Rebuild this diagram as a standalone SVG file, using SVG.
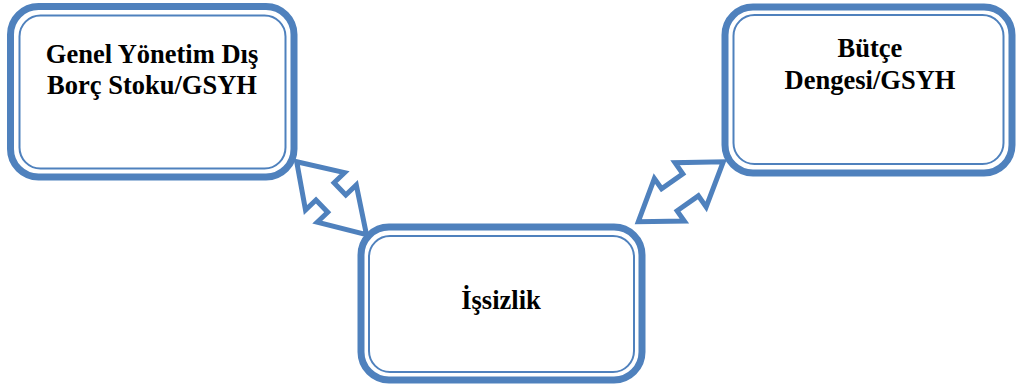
<svg xmlns="http://www.w3.org/2000/svg" width="1016" height="387" viewBox="0 0 1016 387">
  <style>
    .frame { fill: #ffffff; stroke: #4F81BD; stroke-width: 7; }
    .inner { fill: none; stroke: #4F81BD; stroke-width: 2; }
    .arrow { fill: #ffffff; stroke: #4F81BD; stroke-width: 5; stroke-linejoin: miter; }
    .label { font-family: "Liberation Serif", "Times New Roman", serif; font-weight: bold; font-size: 26.5px; fill: #000000; text-anchor: middle; }
  </style>

  <!-- Top-left box -->
  <g id="node-borc">
    <rect class="frame" x="10.5" y="6.5" width="283.5" height="170.5" rx="28" ry="28"/>
    <rect class="inner" x="19.5" y="15.5" width="266" height="153" rx="21" ry="21"/>
    <text class="label" x="152" y="63">Genel Yönetim Dış</text>
    <text class="label" x="152" y="94">Borç Stoku/GSYH</text>
  </g>

  <!-- Top-right box -->
  <g id="node-butce">
    <rect class="frame" x="725" y="7" width="287" height="166" rx="28" ry="28"/>
    <rect class="inner" x="733.5" y="15" width="270" height="149" rx="21" ry="21"/>
    <text class="label" x="870" y="57">Bütçe</text>
    <text class="label" x="870" y="88.5">Dengesi/GSYH</text>
  </g>

  <!-- Bottom box -->
  <g id="node-issizlik">
    <rect class="frame" x="361" y="227" width="281" height="153" rx="28" ry="28"/>
    <rect class="inner" x="369" y="236" width="265" height="136" rx="21" ry="21"/>
    <text class="label" x="501" y="309">İşsizlik</text>
  </g>

  <!-- Double-headed block arrows -->
  <g id="connectors">
    <polygon class="arrow" transform="translate(296.7,161.7) rotate(46.3)"
             points="0,0 41,-27 41,-12.5 58,-12.5 58,-27 101,0 58,27 58,12.5 41,12.5 41,27"/>
    <polygon class="arrow" transform="translate(638.3,221.7) rotate(-35.2)"
             points="0,0 38,-26 38,-13.5 64,-13.5 64,-27 104,0 64,27 64,13.5 38,13.5 38,26"/>
  </g>
</svg>
